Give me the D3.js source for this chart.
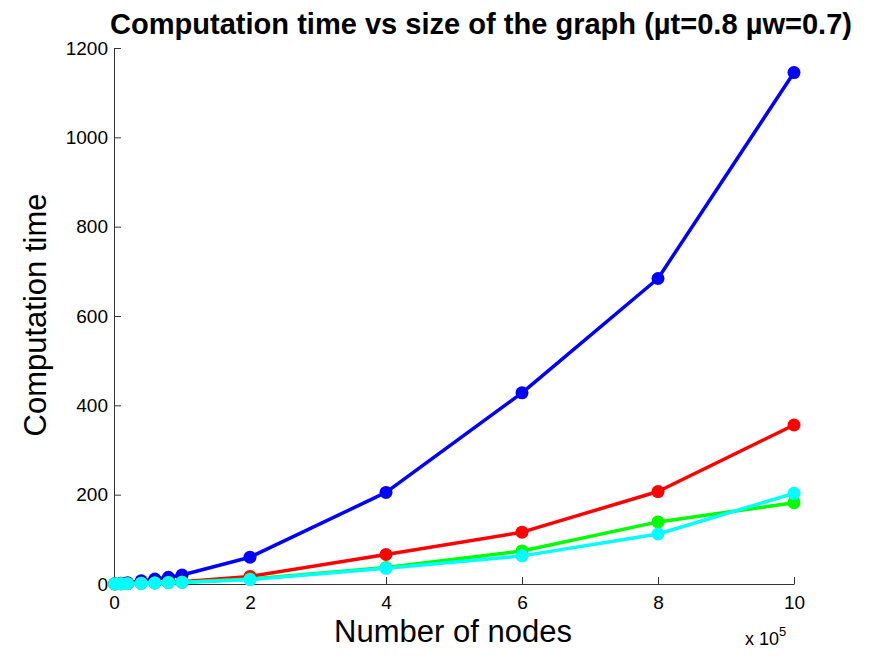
<!DOCTYPE html>
<html><head><meta charset="utf-8">
<script src="https://cdn.jsdelivr.net/npm/d3@7"></script>
<style>body{margin:0;background:#fff}svg{display:block}text{font-family:"Liberation Sans",Arial,sans-serif}</style>
</head><body>
<script>
const nodes = [1000, 10000, 20000, 40000, 60000, 80000, 100000, 200000, 400000, 600000, 800000, 1000000];
const seriesBlue  = [0.5, 1.5, 3, 7, 11, 15, 20, 60, 205, 428, 684, 1145];
const seriesRed   = [0.2, 0.5, 1, 2, 3, 4, 5, 17, 66, 116, 207, 356];
const seriesGreen = [0.1, 0.4, 0.8, 1.5, 2.5, 3.5, 4, 11, 37, 74, 139, 182];
const seriesCyan  = [0.1, 0.3, 0.6, 1.2, 2, 3, 3.5, 10, 35, 63, 112, 203];
const xTicks = [0, 2, 4, 6, 8, 10];
const yTicks = [0, 200, 400, 600, 800, 1000, 1200];
const series = [
  {values: seriesBlue, color: "#0000ff"},
  {values: seriesRed, color: "#ff0000"},
  {values: seriesGreen, color: "#00ff00"},
  {values: seriesCyan, color: "#00ffff"}
];

const W = 875, H = 659;
const svg = d3.select("body").append("svg").attr("width", W).attr("height", H);
const x = d3.scaleLinear().domain([0, 1e6]).range([114, 794]);
const y = d3.scaleLinear().domain([0, 1200]).range([584, 48]);

const gx = svg.append("g").attr("transform", "translate(0,584)")
  .call(d3.axisBottom(x).tickValues(xTicks.map(d => d * 1e5)).tickFormat(d => d / 1e5).tickSizeInner(-7).tickSizeOuter(0).tickPadding(12));
const gy = svg.append("g").attr("transform", "translate(114,0)")
  .call(d3.axisLeft(y).tickValues(yTicks).tickFormat(d3.format("d")).tickSizeInner(-7).tickSizeOuter(0).tickPadding(6));
[gx, gy].forEach(g => {
  g.select(".domain").attr("stroke", "#333").attr("stroke-width", 1);
  g.selectAll(".tick line").attr("stroke", "#333");
  g.selectAll(".tick text").attr("font-size", 19).attr("fill", "#000").attr("font-family", "Liberation Sans, Arial, sans-serif");
});
gx.selectAll(".tick text").attr("dy", "0.71em");

const line = d3.line().x((d, i) => x(nodes[i])).y(d => y(d));
series.forEach(s => {
  svg.append("path").datum(s.values).attr("d", line)
    .attr("fill", "none").attr("stroke", s.color).attr("stroke-width", 3.5).attr("stroke-linejoin", "round");
  svg.append("g").selectAll("circle").data(s.values).join("circle")
    .attr("cx", (d, i) => x(nodes[i])).attr("cy", d => y(d)).attr("r", 6.5).attr("fill", s.color);
});

svg.append("text").attr("x", 481).attr("y", 34).attr("text-anchor", "middle")
  .attr("font-size", 29).attr("font-weight", "bold")
  .attr("textLength", 742).attr("lengthAdjust", "spacingAndGlyphs")
  .text("Computation time vs size of the graph (µt=0.8 µw=0.7)");
svg.append("text").attr("x", 453).attr("y", 642).attr("text-anchor", "middle").attr("font-size", 31).text("Number of nodes");
svg.append("text").attr("transform", "translate(46,315) rotate(-90)").attr("text-anchor", "middle").attr("font-size", 31).text("Computation time");
const ex = svg.append("text").attr("x", 745).attr("y", 645).attr("font-size", 18);
ex.append("tspan").text("x 10");
ex.append("tspan").attr("dy", -9).attr("font-size", 13).text("5");
</script>
</body></html>
